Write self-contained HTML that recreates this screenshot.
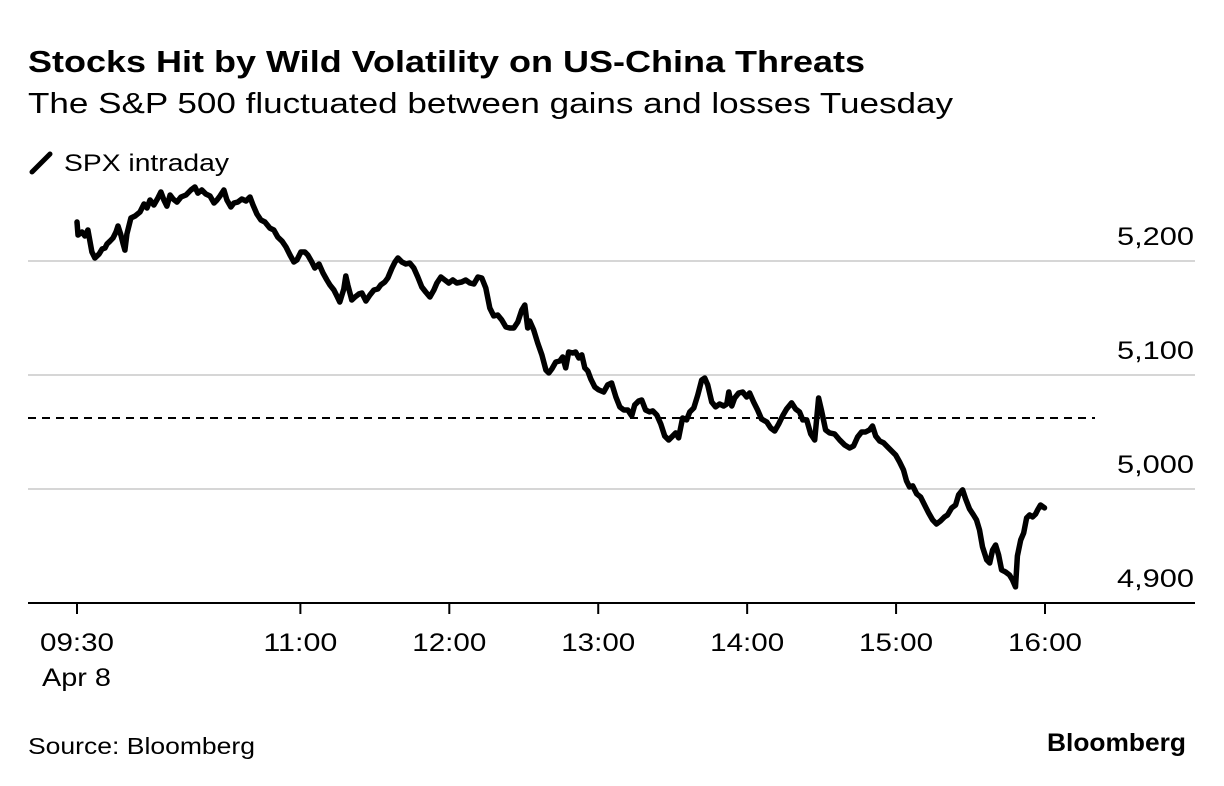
<!DOCTYPE html>
<html><head><meta charset="utf-8"><style>
body{margin:0;background:#fff;width:1224px;height:786px;overflow:hidden;font-family:"Liberation Sans",sans-serif;}
svg{display:block}
</style></head><body>
<svg width="1224" height="786">
<text x="28" y="72" font-size="31" font-weight="bold" fill="#000" textLength="837" lengthAdjust="spacingAndGlyphs">Stocks Hit by Wild Volatility on US-China Threats</text>
<text x="28" y="113" font-size="29" fill="#000" textLength="925" lengthAdjust="spacingAndGlyphs">The S&amp;P 500 fluctuated between gains and losses Tuesday</text>
<g>
<line x1="32" y1="172" x2="50" y2="154" stroke="#000" stroke-width="5" stroke-linecap="round"/>
<text x="64" y="171" font-size="24" fill="#000" textLength="165" lengthAdjust="spacingAndGlyphs">SPX intraday</text>
</g>
<g id="grid"></g><g id="yl"></g><g id="xl"></g>
<path id="line" fill="none" stroke="#000" stroke-width="5.5" stroke-linejoin="round" stroke-linecap="round"/>
<text x="28" y="754" font-size="23" fill="#000" textLength="227" lengthAdjust="spacingAndGlyphs">Source: Bloomberg</text>
<text x="1047" y="751" font-size="25" font-weight="bold" fill="#000" textLength="139" lengthAdjust="spacingAndGlyphs">Bloomberg</text>
</svg>
<script>
const yTicks=[4900,5000,5100,5200];
const yTickLabels=["4,900","5,000","5,100","5,200"];
const xTicks=[0,90,150,210,270,330,390];
const xTickLabels=["09:30","11:00","12:00","13:00","14:00","15:00","16:00"];
const prevClose=5062.3;
const times=[0,0.4,2,3.2,4.4,6,7.2,8.9,10.1,11.3,12.1,13.3,14.5,15.7,16.5,17.7,18.5,19.3,20.1,21.7,23.4,25.4,27,28.2,29.4,31,32.6,33.8,35,36.2,37.5,38.7,40.3,41.9,43.9,45.9,47.5,48.7,50.3,51.9,53.6,55.2,56.4,57.6,59.2,60.4,62,63.2,64.8,66.4,68.1,69.7,70.9,72.5,74.1,75.7,77.7,79.3,80.9,82.6,84.2,85.8,87.4,88.6,90.2,91.8,93,94.6,95.8,97.5,99.1,100.7,101.9,103.5,104.7,105.9,107.5,108.3,109.1,110.7,112,113.6,114.8,116.4,118,119.6,121.2,122.4,124,125.2,126.9,128.1,129.3,130.9,132.5,134.1,135.7,137.3,138.9,140.5,142.2,143.8,145,146.6,148.2,149.8,151.4,153,155,156.6,158.3,159.9,161.5,163.1,164.7,166.3,167.9,169.5,171.1,172.8,174.4,176,177.6,179.2,180.4,181.6,182.4,184,185.6,187.3,188.9,190.1,191.3,192.9,194.5,195.7,196.9,198.1,199.7,200.9,202.2,203.4,204.6,205.8,207,208.6,210.2,212.2,213.8,215.4,217.1,218.7,220.3,221.9,223.5,224.7,226.3,227.5,229.1,230.7,232,233.6,235.2,236.8,238.4,240,241.2,242.4,244,245.6,246.9,248.5,250.1,251.7,252.9,254.1,255.7,257.3,258.9,260.5,261.8,262.6,263.8,265,266.6,268.2,269.8,271,272.6,274.2,275.8,277.9,279.5,281.1,282.7,284.3,285.9,287.9,289.5,291.1,292.4,294,295.6,297.2,298.8,300,301.6,303.2,305.2,307.3,309.3,311.3,312.9,314.5,316.1,317.7,319.3,320.5,321.8,323.4,325,326.6,328.2,329.8,331.4,333,334.2,335.4,336.7,338.3,339.9,341.5,343.1,344.7,346.3,347.9,349.5,350.7,352.4,354,355.2,356.8,358,359.6,361.2,362.4,363.6,364.8,366.5,367.7,368.9,370.1,371.3,372.5,374.1,375.7,376.9,378.1,378.9,380.2,381.4,382.6,383.8,385,386.2,387,388.2,389.8];
const prices=[5234.2,5222.8,5225.4,5221.9,5227.2,5207.9,5202.6,5206.1,5210.5,5211.4,5214.9,5217.5,5220.2,5225.4,5230.7,5222.8,5215.8,5209.6,5223.7,5237.7,5239.5,5243,5250,5246.5,5253.5,5249.1,5255.3,5260.5,5253.5,5248.2,5257.9,5254.4,5251.7,5256.1,5257.9,5262.3,5264.9,5259.6,5262.3,5258.8,5257,5250.9,5253.5,5257,5262.3,5253.5,5247.4,5250.9,5251.7,5254.4,5252.6,5256.1,5249.1,5241.2,5236,5234.2,5228.9,5227.2,5221,5217.5,5212.3,5205.3,5199.1,5200.9,5207.9,5207.9,5205.3,5199.1,5193.9,5197.4,5189.5,5183.3,5179,5174.6,5169.3,5164,5175.4,5186.8,5179,5165.8,5168.4,5171.1,5171.9,5164.9,5170.2,5174.6,5175.4,5179,5181.6,5185.1,5193.9,5199.1,5202.6,5199.1,5197.4,5198.2,5193.9,5186,5177.2,5172.8,5168.4,5174.6,5180.7,5186,5183.3,5180.7,5183.3,5180.7,5181.6,5183.3,5180.7,5179.8,5186,5185.1,5176.3,5158.8,5151.8,5152.6,5148.3,5142.1,5141.2,5141.2,5146.5,5157,5161.4,5141.2,5147.4,5139.5,5128.1,5117.6,5104.4,5101.8,5105.3,5111.4,5112.3,5115.8,5106.2,5120.2,5119.3,5120.2,5114.9,5117.6,5106.2,5103.5,5096.5,5089.5,5086.9,5085.1,5091.3,5093,5080.7,5072,5069.3,5069.3,5064.1,5073.7,5077.2,5078.1,5069.3,5067.6,5068.5,5064.9,5057,5046.5,5043,5046.5,5049.2,5044.8,5062.3,5060.6,5067.6,5071.1,5082.5,5095.6,5097.4,5091.3,5076.3,5072,5074.6,5072.8,5074.6,5085.1,5072.8,5079.8,5084.2,5085.1,5080.7,5084.2,5076.3,5069.3,5061.4,5058.8,5053.5,5050.9,5057,5064.1,5070.2,5075.5,5070.2,5067.6,5060.6,5060.6,5048.3,5043,5079.8,5068.5,5051.8,5049.2,5048.3,5043,5038.6,5036,5037.8,5045.6,5050,5050,5051.8,5055.3,5046.5,5042.1,5040.4,5036.9,5033.4,5029.9,5023.7,5016.7,5007.1,5001.8,5002.7,4995.7,4993,4986,4979,4972.9,4969.3,4972,4975.5,4977.2,4983.4,4986,4994.8,4999.2,4991.3,4982.5,4977.2,4972.9,4964.1,4949.2,4937.8,4935.1,4946.5,4950.9,4942.2,4929,4927.3,4924.6,4920.2,4914.1,4941.3,4955.3,4961.5,4974.6,4977.2,4975.5,4978.1,4981.6,4986,4983.4];
const NS='http://www.w3.org/2000/svg';
const X=t=>77+t*(968/390);
const Y=v=>261+(5200-v)*1.14;
function mk(tag,attrs,parent){const e=document.createElementNS(NS,tag);for(const k in attrs)e.setAttribute(k,attrs[k]);parent.appendChild(e);return e;}
const grid=document.getElementById('grid'),yl=document.getElementById('yl'),xl=document.getElementById('xl');
yTicks.forEach((v,i)=>{
  if(v!==4900){const g=mk('line',{x1:28,x2:1195,y1:Y(v),y2:Y(v),stroke:'#d6d6d6','stroke-width':2},grid);
  
  }
  const t=mk('text',{x:1117,y:Y(v)-16,'font-size':25,fill:'#000',textLength:77,lengthAdjust:'spacingAndGlyphs'},yl);
  t.textContent=yTickLabels[i];
  
  
});
const dl=mk('line',{x1:28,x2:1095,y1:Y(prevClose),y2:Y(prevClose),stroke:'#000','stroke-width':2,'stroke-dasharray':'8,6'},grid);


const ax=mk('line',{x1:28,x2:1195,y1:603,y2:603,stroke:'#000','stroke-width':2},grid);


xTicks.forEach((t,i)=>{
  const tk=mk('line',{x1:X(t),x2:X(t),y1:603,y2:614,stroke:'#000','stroke-width':2},xl);
  
  
  const tx=mk('text',{x:X(t)-37,y:651,'font-size':25,fill:'#000',textLength:74,lengthAdjust:'spacingAndGlyphs'},xl);
  tx.textContent=xTickLabels[i];
  
  
});
const ad=mk('text',{x:X(0)-35,y:686,'font-size':25,fill:'#000',textLength:69,lengthAdjust:'spacingAndGlyphs'},xl);
ad.textContent='Apr 8';


document.getElementById('line').setAttribute('d',times.map((t,i)=>(i?'L':'M')+X(t).toFixed(1)+','+Y(prices[i]).toFixed(1)).join(''));
</script>
</body></html>
